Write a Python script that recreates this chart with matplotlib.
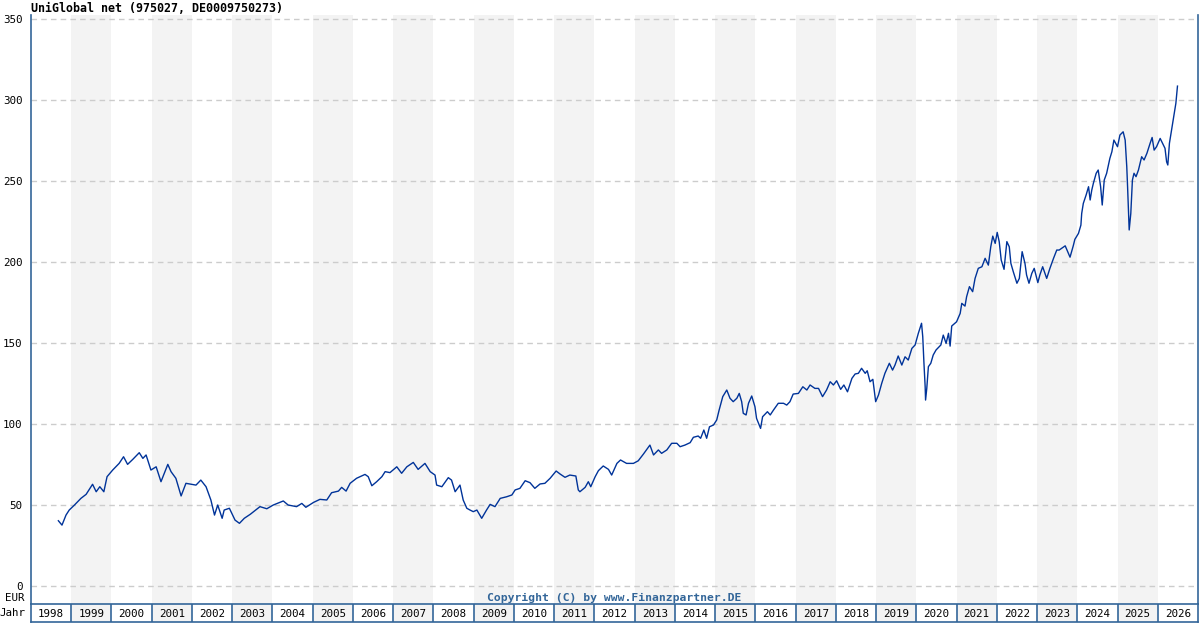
import matplotlib
matplotlib.use('Agg')
import matplotlib.pyplot as plt

# fund price (decimal year, EUR)
dates = [
    1998.68, 1998.77, 1998.87, 1998.95, 1999.08, 1999.24, 1999.37, 1999.53, 1999.62, 1999.71,
    1999.81, 1999.89, 2000.03, 2000.19, 2000.30, 2000.40, 2000.53, 2000.69, 2000.78, 2000.86,
    2000.98, 2001.11, 2001.23, 2001.40, 2001.48, 2001.60, 2001.73, 2001.85, 2001.98, 2002.10,
    2002.22, 2002.35, 2002.47, 2002.56, 2002.64, 2002.75, 2002.80, 2002.93, 2003.07, 2003.18,
    2003.30, 2003.45, 2003.69, 2003.86, 2004.02, 2004.27, 2004.39, 2004.60, 2004.73, 2004.83,
    2005.02, 2005.18, 2005.35, 2005.47, 2005.64, 2005.72, 2005.83, 2005.93, 2006.09, 2006.30,
    2006.38, 2006.47, 2006.59, 2006.72, 2006.80, 2006.92, 2007.09, 2007.21, 2007.34, 2007.50,
    2007.62, 2007.79, 2007.92, 2008.04, 2008.08, 2008.21, 2008.37, 2008.45, 2008.54, 2008.66,
    2008.74, 2008.83, 2008.91, 2008.99, 2009.08, 2009.20, 2009.32, 2009.41, 2009.53, 2009.66,
    2009.82, 2009.95, 2010.03, 2010.15, 2010.28, 2010.40, 2010.52, 2010.65, 2010.77, 2010.90,
    2011.05, 2011.15, 2011.27, 2011.39, 2011.54, 2011.60, 2011.64, 2011.77, 2011.85, 2011.91,
    2012.02, 2012.10, 2012.22, 2012.35, 2012.43, 2012.56, 2012.65, 2012.80, 2012.97, 2013.09,
    2013.22, 2013.38, 2013.47, 2013.59, 2013.67, 2013.80, 2013.92, 2014.05, 2014.13, 2014.25,
    2014.38, 2014.46, 2014.58, 2014.64, 2014.72, 2014.79, 2014.86, 2014.96, 2015.04, 2015.10,
    2015.19, 2015.29, 2015.37, 2015.45, 2015.54, 2015.60, 2015.66, 2015.70, 2015.77, 2015.83,
    2015.91, 2015.99, 2016.03, 2016.13, 2016.18, 2016.30, 2016.37, 2016.45, 2016.57, 2016.70,
    2016.78, 2016.86, 2016.94, 2017.07, 2017.18, 2017.28, 2017.36, 2017.48, 2017.57, 2017.67,
    2017.77, 2017.86, 2017.94, 2018.02, 2018.12, 2018.20, 2018.29, 2018.40, 2018.48, 2018.56,
    2018.64, 2018.73, 2018.78, 2018.85, 2018.92, 2018.99, 2019.06, 2019.14, 2019.22, 2019.33,
    2019.41, 2019.47, 2019.55, 2019.64, 2019.72, 2019.80, 2019.89, 2019.97, 2020.05, 2020.13,
    2020.16, 2020.19, 2020.22, 2020.23, 2020.26, 2020.30, 2020.36, 2020.42, 2020.49, 2020.61,
    2020.67, 2020.74, 2020.80, 2020.84, 2020.88, 2021.00, 2021.09, 2021.13, 2021.21, 2021.25,
    2021.32, 2021.40, 2021.46, 2021.54, 2021.63, 2021.71, 2021.79, 2021.85, 2021.90, 2021.96,
    2022.01, 2022.06, 2022.11, 2022.18, 2022.25, 2022.31, 2022.35, 2022.41, 2022.50, 2022.56,
    2022.63, 2022.70, 2022.74, 2022.80, 2022.87, 2022.93, 2023.02, 2023.07, 2023.14, 2023.24,
    2023.32, 2023.41, 2023.49, 2023.55, 2023.70, 2023.82, 2023.90, 2023.94, 2024.03, 2024.09,
    2024.11, 2024.15, 2024.22, 2024.28, 2024.32, 2024.36, 2024.40, 2024.47, 2024.52, 2024.58,
    2024.62, 2024.67, 2024.73, 2024.81, 2024.86, 2024.91, 2025.00, 2025.06, 2025.14, 2025.19,
    2025.23, 2025.25, 2025.29, 2025.33, 2025.37, 2025.41, 2025.46, 2025.52, 2025.60, 2025.66,
    2025.73, 2025.81, 2025.86, 2025.91, 2025.97, 2026.06, 2026.12, 2026.18, 2026.22, 2026.25,
    2026.29, 2026.33, 2026.39, 2026.43, 2026.45, 2026.49,
]
prices = [
    40.3, 37.6, 43.8, 46.9, 50.0, 54.1, 56.6, 62.8, 58.2, 61.3,
    58.2, 67.5, 71.6, 75.7, 79.8, 75.1, 78.2, 82.3, 78.8, 80.9,
    71.6, 73.6, 64.4, 75.1, 70.6, 66.5, 55.6, 63.4, 62.8, 62.3,
    65.4, 61.3, 53.1, 43.8, 50.0, 41.8, 46.9, 48.0, 40.7, 38.7,
    41.8, 44.3, 49.0, 47.7, 50.0, 52.5, 50.0, 49.0, 51.0, 48.6,
    51.6, 53.5, 53.1, 57.6, 58.6, 60.9, 58.6, 63.4, 66.5, 68.9,
    67.5, 61.9, 64.4, 67.5, 70.6, 70.0, 73.6, 69.6, 73.6, 76.3,
    72.0, 75.7, 70.6, 68.5, 62.3, 61.3, 66.9, 65.4, 58.2, 62.3,
    53.1, 48.0, 46.9, 45.9, 46.9, 41.8, 46.9, 50.4, 49.0, 54.1,
    55.1, 56.2, 59.3, 60.3, 65.0, 63.8, 60.3, 63.0, 63.4, 66.5,
    71.0, 69.1, 67.1, 68.5, 67.9, 59.3, 58.2, 60.9, 64.4, 61.3,
    67.5, 71.2, 74.1, 72.0, 68.5, 75.7, 77.8, 75.7, 75.7, 77.3,
    81.5, 87.0, 80.9, 84.0, 81.9, 84.0, 88.1, 88.1, 86.0, 87.0,
    88.5, 91.8, 92.6, 91.2, 96.3, 91.2, 98.3, 99.4, 102.5, 108.6,
    116.9, 121.0, 115.9, 113.8, 115.9, 118.9, 113.8, 106.6, 105.6, 112.8,
    117.3, 110.7, 103.5, 97.3, 104.5, 107.6, 105.6, 108.6, 112.8, 112.8,
    111.7, 113.8, 118.5, 118.9, 123.0, 121.0, 124.1, 122.0, 122.0, 116.9,
    121.0, 126.1, 124.1, 126.7, 121.4, 124.1, 119.9, 128.2, 130.9, 131.3,
    134.4, 131.3, 132.9, 126.1, 127.6, 113.8, 117.9, 125.1, 131.3, 137.5,
    133.3, 136.4, 142.0, 136.4, 141.5, 139.5, 146.7, 148.8, 156.0, 162.2,
    153.9, 137.5, 123.0, 114.8, 122.0, 135.4, 137.5, 142.6, 145.7, 148.8,
    154.9, 149.8, 156.0, 148.1, 160.5, 163.1, 168.3, 174.5, 172.8, 178.6,
    184.8, 181.7, 189.9, 196.1, 197.1, 202.3, 198.1, 209.4, 216.0, 211.5,
    218.3, 212.6, 201.2, 195.5, 212.6, 209.4, 199.2, 194.0, 186.9, 189.9,
    206.4, 199.2, 192.0, 186.9, 193.0, 196.1, 187.3, 192.0, 197.1, 189.9,
    196.1, 202.3, 207.4, 207.4, 210.0, 203.0, 210.0, 214.0, 217.7, 222.8,
    230.0, 236.2, 241.4, 246.5, 238.3, 244.4, 248.6, 254.8, 256.8, 246.5,
    235.2, 250.6, 254.8, 264.0, 268.1, 275.3, 271.2, 278.4, 280.4, 275.3,
    258.8, 246.5, 219.8, 230.0, 250.6, 254.8, 252.7, 256.8, 265.0, 263.0,
    267.1, 273.3, 276.9, 269.1, 271.2, 276.3, 273.3, 270.2, 261.9, 259.9,
    273.3, 279.4, 288.7, 294.9, 298.0, 308.6,
]
years = list(range(1998, 2027))
y_ticks = [0, 50, 100, 150, 200, 250, 300, 350]

title = 'UniGlobal net (975027, DE0009750273)'
frame_color = '#336699'
line_color = '#003399'
band_color = '#f3f3f3'
font = 'DejaVu Sans Mono'

fig = plt.figure(figsize=(12, 6.3), dpi=100)
W, H = 1200, 630

# main chart area
ax = fig.add_axes([31 / W, (H - 604) / H, 1167 / W, 589 / H])
ax.set_xlim(1998, 2027)
ax.set_ylim(-11.1, 352.5)
for yr in years:
    if yr % 2 == 1:
        ax.axvspan(yr, yr + 1, color=band_color, lw=0, zorder=0)
for t in y_ticks:
    ax.axhline(t, color='#cccccc', lw=1, ls=(0, (4, 3)), zorder=1)
ax.plot(dates, prices, color=line_color, lw=1, zorder=3)

ax.set_yticks(y_ticks)
ax.set_yticklabels([str(t) for t in y_ticks], fontfamily=font, fontsize=7.8)
ax.tick_params(axis='y', length=0, pad=6)
ax.set_xticks([])
for side in ['top', 'bottom']:
    ax.spines[side].set_visible(False)
for side in ['left', 'right']:
    ax.spines[side].set_color(frame_color)
    ax.spines[side].set_linewidth(1.2)

fig.text(614 / W, 1 - 598 / H, 'Copyright (C) by www.Finanzpartner.DE', ha='center',
         va='center', fontfamily=font, fontsize=8.2, fontweight='bold', color=frame_color)

# year row
yax = fig.add_axes([31 / W, (H - 622) / H, 1167 / W, 18 / H])
yax.set_xlim(1998, 2027)
yax.set_ylim(0, 1)
for yr in years:
    if yr % 2 == 1:
        yax.axvspan(yr, yr + 1, color=band_color, lw=0)
    if yr > 1998:
        yax.axvline(yr, color=frame_color, lw=1.2)
    yax.text(yr + 0.5, 0.45, str(yr), ha='center', va='center', fontfamily=font, fontsize=7.8)
yax.set_xticks([])
yax.set_yticks([])
for s in yax.spines.values():
    s.set_color(frame_color)
    s.set_linewidth(1.2)

fig.text(31 / W, 1 - 8 / H, title, ha='left', va='center', fontfamily=font,
         fontsize=8.4, fontweight='bold')
fig.text(25 / W, 1 - 598 / H, 'EUR', ha='right', va='center', fontfamily=font, fontsize=7.8)
fig.text(25 / W, 1 - 613 / H, 'Jahr', ha='right', va='center', fontfamily=font, fontsize=7.8)

fig.savefig('out.png', dpi=100)
